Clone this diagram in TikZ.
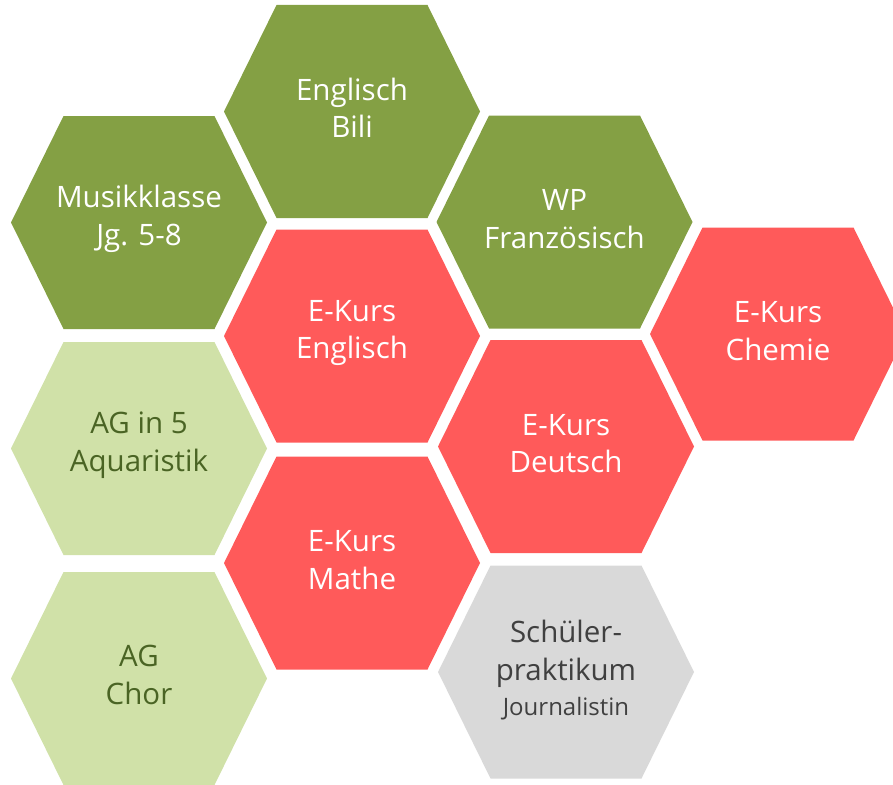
\documentclass[tikz,border=0pt]{standalone}
\usepackage{fontspec}
\setmainfont{Open Sans}
\definecolor{dgreen}{HTML}{84A044}
\definecolor{lgreen}{HTML}{D0E1A8}
\definecolor{hred}{HTML}{FF5A5A}
\definecolor{hgray}{HTML}{D9D9D9}
\definecolor{gtext}{HTML}{4A6424}
\definecolor{ktext}{HTML}{404040}
\begin{document}
\begin{tikzpicture}[x=1pt,y=-1pt,
  hexpic/.pic={\fill[pic actions] (-128,0) -- (-75.5,-106.5) -- (75.5,-106.5) -- (128,0) -- (75.5,106.5) -- (-75.5,106.5) -- cycle;},
  lbl/.style={align=center,inner sep=0pt,font=\fontsize{29.5}{37.5}\selectfont},
  small/.style={font=\fontsize{24}{28}\selectfont}]
\useasboundingbox (0,0) rectangle (893,784);
\pic[fill=dgreen] at (139,222.5) {hexpic};
\pic[fill=dgreen] at (352,111.5) {hexpic};
\pic[fill=dgreen] at (564.5,222) {hexpic};
\pic[fill=hred] at (778,334) {hexpic};
\pic[fill=hred] at (352,336) {hexpic};
\pic[fill=lgreen] at (139,448.5) {hexpic};
\pic[fill=hred] at (566,446.5) {hexpic};
\pic[fill=hred] at (352,563) {hexpic};
\pic[fill=lgreen] at (139,678.5) {hexpic};
\pic[fill=hgray] at (566,672) {hexpic};
\node[lbl,text=white] (musik) at (139,219) {Musikklasse\\Jg. 5-8};
\node[lbl,text=white] (bili) at (352,108) {Englisch\\Bili};
\node[lbl,text=white] (wp) at (564.5,219) {WP\\Französisch};
\node[lbl,text=white] (chemie) at (778,331) {E-Kurs\\Chemie};
\node[lbl,text=white] (eengl) at (352,333) {E-Kurs\\Englisch};
\node[lbl,text=gtext] (ag5) at (139,445) {AG in 5\\Aquaristik};
\node[lbl,text=white] (edeu) at (566,443.5) {E-Kurs\\Deutsch};
\node[lbl,text=white] (emathe) at (352,560) {E-Kurs\\Mathe};
\node[lbl,text=gtext] (chor) at (139,675) {AG\\Chor};
\node[lbl,text=ktext,anchor=base] (schueler) at (566,680) {Schüler-\\praktikum};
\node[lbl,small,text=ktext,anchor=base] (journ) at (566,715) {Journalistin};
\end{tikzpicture}
\end{document}
